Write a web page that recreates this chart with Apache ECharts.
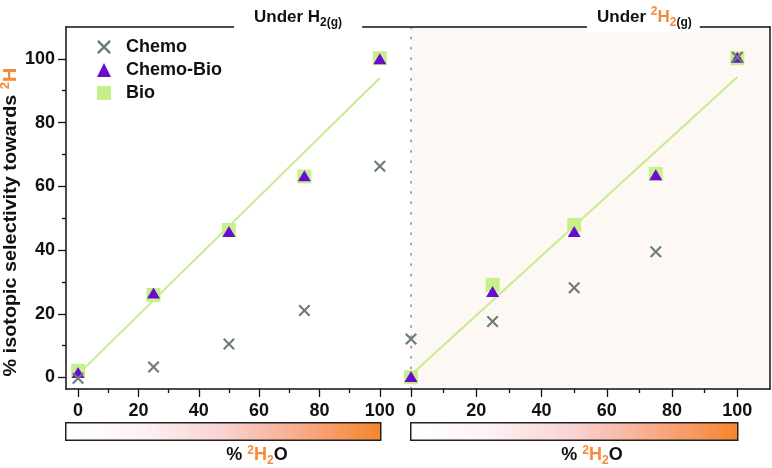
<!DOCTYPE html>
<html><head><meta charset="utf-8">
<script src="https://cdn.jsdelivr.net/npm/echarts@6/dist/echarts.min.js"></script>
<style>html,body{margin:0;padding:0;background:#fff}#c{width:772px;height:468px}</style>
</head><body><div id="c"></div>
<script>
// ---- data ----
const xValues = [0, 25, 50, 75, 100];
// Panel 1: Under H2(g)
const h2Chemo    = [-0.2, 3.3, 10.5, 21.0, 66.3];
const h2ChemoBio = [1.6, 26.5, 45.8, 63.3, 100.0];
const h2Bio      = [2.1, 25.9, 46.3, 63.1, 100.2];
const h2FitX = [0, 100];
const h2FitY = [1.0, 94.0];
// Panel 2: Under 2H2(g)
const d2Chemo    = [12.1, 17.6, 28.2, 39.5, 100.5];
const d2ChemoBio = [0.3, 27.0, 45.8, 63.6, 100.5];
const d2Bio      = [0.1, 29.1, 47.9, 63.9, 100.2];
const d2FitX = [0, 100];
const d2FitY = [0.8, 94.3];
// ticks
const xTickLabels = [0, 20, 40, 60, 80, 100];
const yTickLabels = [0, 20, 40, 60, 80, 100];
const minorTicks  = [10, 30, 50, 70, 90];
const seriesNames = ['Chemo', 'Chemo-Bio', 'Bio'];

// ---- styles ----
const FONT = 'Liberation Sans, Arial, Helvetica, sans-serif';
const BLACK = '#111111';
const ORANGE = '#f7893a';
const GREY = '#6c7b7c';
const PURPLE = '#6a0ccd';
const GREEN = '#c6f08e';
const GREEN_LINE = '#c4ee8c';
const PEACH = '#fdf8f3';
const XPATH = 'path://M1.5,0L6,4.5L10.5,0L12,1.5L7.5,6L12,10.5L10.5,12L6,7.5L1.5,12L0,10.5L4.5,6L0,1.5Z';

function pts(xs, ys) { return xs.map((x, i) => [x, ys[i]]); }

const chart = echarts.init(document.getElementById('c'), null, {renderer: 'canvas'});

const axisLineStyle = {color: BLACK, width: 1.5};
const labelStyle = {fontSize: 18, fontWeight: 'bold', color: BLACK, fontFamily: FONT};

function majorX(grid, min) {
  return {gridIndex: grid, type: 'value', min: min, max: 110, position: 'bottom',
    axisLine: {show: true, onZero: false, lineStyle: axisLineStyle},
    axisTick: {show: true, customValues: xTickLabels, length: 8, lineStyle: {color: BLACK, width: 1.3}},
    axisLabel: Object.assign({customValues: xTickLabels, margin: 13}, labelStyle),
    splitLine: {show: false}};
}
function minorX(grid, min) {
  return {gridIndex: grid, type: 'value', min: min, max: 110, position: 'bottom', offset: 0,
    axisLine: {show: false, onZero: false},
    axisTick: {show: true, customValues: minorTicks, length: 4, lineStyle: {color: BLACK, width: 1.3}},
    axisLabel: {show: false}, splitLine: {show: false}};
}
function topX(grid, min) {
  return {gridIndex: grid, type: 'value', min: min, max: 110, position: 'top',
    axisLine: {show: true, onZero: false, lineStyle: axisLineStyle},
    axisTick: {show: false}, axisLabel: {show: false}, splitLine: {show: false}};
}

const sub = {fontSize: 12, fontWeight: 'bold', fontFamily: FONT, verticalAlign: 'bottom', lineHeight: 12};
const sup = {fontSize: 12, fontWeight: 'bold', fontFamily: FONT, verticalAlign: 'top', lineHeight: 12};

const scatterBase = {itemStyle: {opacity: 1}};

const option = {
  animation: false,
  backgroundColor: '#ffffff',
  grid: [
    {left: 66, top: 27, width: 344, height: 362, show: false, outerBoundsMode: 'none'},
    {left: 411, top: 27, width: 359, height: 362, show: true, backgroundColor: PEACH, borderWidth: 0, outerBoundsMode: 'none'}
  ],
  title: [
    {left: 234, top: 3, padding: [3, 20, 3, 20], backgroundColor: '#ffffff',
      text: '{m|Under H}{s|2(g)}',
      textStyle: {rich: {
        m: {fontSize: 17, fontWeight: 'bold', color: BLACK, fontFamily: FONT, lineHeight: 23},
        s: Object.assign({color: BLACK}, sub)
      }}},
    {left: 587, top: 3, padding: [3, 8, 3, 10], backgroundColor: '#ffffff',
      text: '{m|Under }{p|2}{o|H}{os|2}{s|(g)}',
      textStyle: {rich: {
        m: {fontSize: 17, fontWeight: 'bold', color: BLACK, fontFamily: FONT, lineHeight: 23},
        p: Object.assign({color: ORANGE}, sup),
        o: {fontSize: 17, fontWeight: 'bold', color: ORANGE, fontFamily: FONT, lineHeight: 23},
        os: Object.assign({color: ORANGE}, sub),
        s: Object.assign({color: BLACK}, sub)
      }}}
  ],
  legend: {
    data: seriesNames, orient: 'vertical', left: 92, top: 33,
    itemWidth: 14, itemHeight: 14, itemGap: 5,
    textStyle: {fontSize: 18, fontWeight: 'bold', color: BLACK, fontFamily: FONT, padding: [0, 0, 0, 10]}
  },
  xAxis: [
    majorX(0, -4), majorX(1, 0), topX(0, -4), topX(1, 0), minorX(0, -4), minorX(1, 0)
  ],
  yAxis: [
    {gridIndex: 0, type: 'value', min: -3.6, max: 110, position: 'left',
      axisLine: {show: true, onZero: false, lineStyle: axisLineStyle},
      axisTick: {show: true, customValues: yTickLabels, length: 8, lineStyle: {color: BLACK, width: 1.3}},
      axisLabel: Object.assign({customValues: yTickLabels, margin: 11}, labelStyle),
      splitLine: {show: false}},
    {gridIndex: 1, type: 'value', min: -3.6, max: 110, position: 'left',
      axisLine: {show: true, onZero: false, lineStyle: {color: '#8a8a8a', width: 1.5, type: [1.5, 8.8]}},
      axisTick: {show: false}, axisLabel: {show: false}, splitLine: {show: false}},
    {gridIndex: 1, type: 'value', min: -3.6, max: 110, position: 'right',
      axisLine: {show: true, onZero: false, lineStyle: axisLineStyle},
      axisTick: {show: false}, axisLabel: {show: false}, splitLine: {show: false}},
    {gridIndex: 0, type: 'value', min: -3.6, max: 110, position: 'left', offset: 0,
      axisLine: {show: false, onZero: false},
      axisTick: {show: true, customValues: minorTicks, length: 4, lineStyle: {color: BLACK, width: 1.3}},
      axisLabel: {show: false}, splitLine: {show: false}}
  ],
  series: [
    {type: 'line', name: 'fit1', xAxisIndex: 0, yAxisIndex: 0, data: pts(h2FitX, h2FitY),
      symbol: 'none', lineStyle: {color: GREEN_LINE, width: 2}, z: 2, silent: true},
    {type: 'scatter', name: 'Bio', xAxisIndex: 0, yAxisIndex: 0, data: pts(xValues, h2Bio),
      symbol: 'rect', symbolSize: 14, itemStyle: {color: GREEN, opacity: 1}, z: 3},
    {type: 'scatter', name: 'Chemo-Bio', xAxisIndex: 0, yAxisIndex: 0, data: pts(xValues, h2ChemoBio),
      symbol: 'triangle', symbolSize: [13, 11], itemStyle: {color: PURPLE, opacity: 1}, z: 4},
    {type: 'scatter', name: 'Chemo', xAxisIndex: 0, yAxisIndex: 0, data: pts(xValues, h2Chemo),
      symbol: XPATH, symbolSize: 12, itemStyle: {color: GREY, opacity: 1}, z: 5},

    {type: 'line', name: 'fit2', xAxisIndex: 1, yAxisIndex: 1, data: pts(d2FitX, d2FitY),
      symbol: 'none', lineStyle: {color: GREEN_LINE, width: 2}, z: 2, silent: true},
    {type: 'scatter', name: 'Bio', xAxisIndex: 1, yAxisIndex: 1, data: pts(xValues, d2Bio),
      symbol: 'rect', symbolSize: 14, itemStyle: {color: GREEN, opacity: 1}, z: 3, clip: false},
    {type: 'scatter', name: 'Chemo-Bio', xAxisIndex: 1, yAxisIndex: 1, data: pts(xValues, d2ChemoBio),
      symbol: 'triangle', symbolSize: [13, 11], itemStyle: {color: PURPLE, opacity: 1}, z: 4, clip: false},
    {type: 'scatter', name: 'Chemo', xAxisIndex: 1, yAxisIndex: 1, data: pts(xValues, d2Chemo),
      symbol: XPATH, symbolSize: 12, itemStyle: {color: GREY, opacity: 1}, z: 5, clip: false}
  ],
  graphic: [
    // colour bars (% 2H2O scale)
    {type: 'rect', left: 65, top: 422, shape: {width: 315, height: 17.5},
      style: {fill: {type: 'linear', x: 0, y: 0, x2: 1, y2: 0, colorStops: [
        {offset: 0, color: '#ffffff'}, {offset: 0.25, color: '#fdf1f3'}, {offset: 0.5, color: '#f9d2d2'},
        {offset: 0.75, color: '#f7aa86'}, {offset: 1, color: '#f6842c'}]},
        stroke: '#222222', lineWidth: 1.5}},
    {type: 'rect', left: 410, top: 422, shape: {width: 327, height: 17.5},
      style: {fill: {type: 'linear', x: 0, y: 0, x2: 1, y2: 0, colorStops: [
        {offset: 0, color: '#ffffff'}, {offset: 0.25, color: '#fdf1f3'}, {offset: 0.5, color: '#f9d2d2'},
        {offset: 0.75, color: '#f7aa86'}, {offset: 1, color: '#f6842c'}]},
        stroke: '#222222', lineWidth: 1.5}},
    // x titles
    {type: 'text', x: 257, y: 455.5, z: 10,
      style: {text: '{m|% }{p|2}{o|H}{os|2}{m|O}', align: 'center', verticalAlign: 'middle',
        rich: {
          m: {fontSize: 18, fontWeight: 'bold', fontFamily: FONT, fill: BLACK, lineHeight: 22},
          p: {fontSize: 12, fontWeight: 'bold', fontFamily: FONT, fill: ORANGE, verticalAlign: 'top', lineHeight: 12},
          o: {fontSize: 18, fontWeight: 'bold', fontFamily: FONT, fill: ORANGE, lineHeight: 22},
          os: {fontSize: 12, fontWeight: 'bold', fontFamily: FONT, fill: ORANGE, verticalAlign: 'bottom', lineHeight: 12}
        }}},
    {type: 'text', x: 592, y: 455.5, z: 10,
      style: {text: '{m|% }{p|2}{o|H}{os|2}{m|O}', align: 'center', verticalAlign: 'middle',
        rich: {
          m: {fontSize: 18, fontWeight: 'bold', fontFamily: FONT, fill: BLACK, lineHeight: 22},
          p: {fontSize: 12, fontWeight: 'bold', fontFamily: FONT, fill: ORANGE, verticalAlign: 'top', lineHeight: 12},
          o: {fontSize: 18, fontWeight: 'bold', fontFamily: FONT, fill: ORANGE, lineHeight: 22},
          os: {fontSize: 12, fontWeight: 'bold', fontFamily: FONT, fill: ORANGE, verticalAlign: 'bottom', lineHeight: 12}
        }}},
    // y title
    {type: 'text', x: 11, y: 222, rotation: Math.PI / 2, scaleX: 1.1, z: 10,
      style: {text: '{m|% isotopic selectivity towards }{p|2}{o|H}', align: 'center', verticalAlign: 'middle',
        rich: {
          m: {fontSize: 18, fontWeight: 'bold', fontFamily: FONT, fill: BLACK, lineHeight: 22},
          p: {fontSize: 12, fontWeight: 'bold', fontFamily: FONT, fill: ORANGE, verticalAlign: 'top', lineHeight: 12},
          o: {fontSize: 18, fontWeight: 'bold', fontFamily: FONT, fill: ORANGE, lineHeight: 22}
        }}}
  ]
};
chart.setOption(option);
</script>
</body></html>
